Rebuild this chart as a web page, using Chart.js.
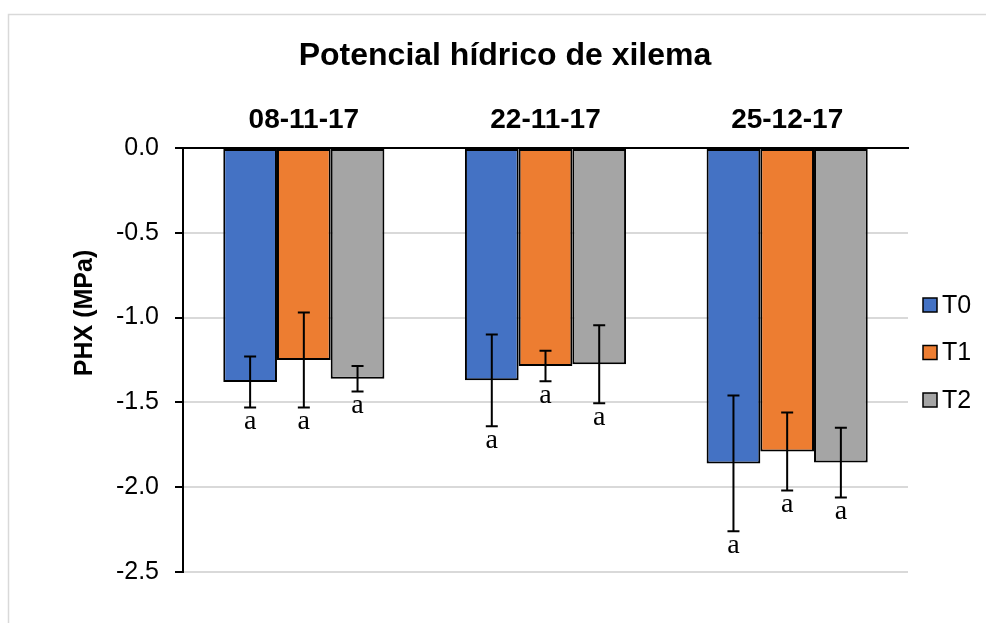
<!DOCTYPE html>
<html>
<head>
<meta charset="utf-8">
<script src="https://cdn.jsdelivr.net/npm/chart.js@4.4.1/dist/chart.umd.min.js"></script>
<style>
  html, body { margin: 0; padding: 0; background: #fff; }
  #wrap { width: 986px; height: 623px; position: relative; }
</style>
</head>
<body>
<div id="wrap"><canvas id="phxChart"></canvas></div>
<script>
// Fechas de muestreo
const fechas = ["08-11-17", "22-11-17", "25-12-17"];
const tratamientos = ["T0", "T1", "T2"];
const titulo = "Potencial hídrico de xilema";

// PHX medio (MPa) por tratamiento
const t0 = [-1.38, -1.37, -1.86];
const t1 = [-1.25, -1.285, -1.79];
const t2 = [-1.36, -1.275, -1.855];

// error (+/-)
const t0Err = [0.15, 0.27, 0.40];
const t1Err = [0.28, 0.09, 0.23];
const t2Err = [0.075, 0.23, 0.205];

// letras de significancia
const t0Letras = ["a", "a", "a"];
const t1Letras = ["a", "a", "a"];
const t2Letras = ["a", "a", "a"];

const yTicks = [0, -0.5, -1.0, -1.5, -2.0, -2.5];

const colores = ["#4472C4", "#ED7D31", "#A5A5A5"];

// error bars + letters drawn on top of the bars
const errorBarsPlugin = {
  id: "errorBars",
  afterDatasetsDraw(chart) {
    const ctx = chart.ctx;
    const yScale = chart.scales.y;
    chart.data.datasets.forEach((ds, i) => {
      const meta = chart.getDatasetMeta(i);
      meta.data.forEach((bar, j) => {
        const v = ds.data[j];
        const e = ds.errores[j];
        const yTop = yScale.getPixelForValue(v + e);
        const yBot = yScale.getPixelForValue(v - e);
        const x = bar.x;
        ctx.save();
        ctx.strokeStyle = "#000";
        ctx.lineWidth = 2;
        ctx.beginPath();
        ctx.moveTo(x, yTop);
        ctx.lineTo(x, yBot);
        ctx.moveTo(x - 6, yTop);
        ctx.lineTo(x + 6, yTop);
        ctx.moveTo(x - 6, yBot);
        ctx.lineTo(x + 6, yBot);
        ctx.stroke();
        ctx.fillStyle = "#000";
        ctx.font = '28px "Liberation Serif", "DejaVu Serif", serif';
        ctx.textAlign = "center";
        ctx.textBaseline = "middle";
        ctx.fillText(ds.letras[j], x, yBot + 14);
        ctx.restore();
      });
    });
  }
};

// frame, title, y axis title and legend
const decorPlugin = {
  id: "decor",
  beforeDraw(chart) {
    const ctx = chart.ctx;
    ctx.save();
    ctx.fillStyle = "#fff";
    ctx.fillRect(0, 0, chart.width, chart.height);
    ctx.strokeStyle = "#d9d9d9";
    ctx.lineWidth = 1.5;
    ctx.beginPath();
    ctx.moveTo(8.5, chart.height);
    ctx.lineTo(8.5, 14.5);
    ctx.lineTo(chart.width, 14.5);
    ctx.stroke();
    ctx.restore();
  },
  afterDraw(chart) {
    const ctx = chart.ctx;
    ctx.save();
    ctx.fillStyle = "#000";
    ctx.font = 'bold 32px "Liberation Sans", Arial, sans-serif';
    ctx.textAlign = "center";
    ctx.textBaseline = "middle";
    ctx.fillText(titulo, 505, 56);
    ctx.restore();

    // y axis title
    ctx.save();
    ctx.translate(85, 313);
    ctx.rotate(-Math.PI / 2);
    ctx.fillStyle = "#000";
    ctx.font = 'bold 25px "Liberation Sans", Arial, sans-serif';
    ctx.textAlign = "center";
    ctx.textBaseline = "middle";
    ctx.fillText("PHX (MPa)", 0, 0);
    ctx.restore();

    // legend
    ctx.save();
    const n = chart.data.datasets.length;
    const step = 47.5;
    const y0 = 352.5 - step * (n - 1) / 2;
    chart.data.datasets.forEach((ds, i) => {
      const y = y0 + i * step;
      ctx.fillStyle = ds.backgroundColor;
      ctx.fillRect(923, y - 7, 14, 14);
      ctx.strokeStyle = "#000";
      ctx.lineWidth = 1.5;
      ctx.strokeRect(923, y - 7, 14, 14);
      ctx.fillStyle = "#000";
      ctx.font = '25px "Liberation Sans", Arial, sans-serif';
      ctx.textAlign = "left";
      ctx.textBaseline = "middle";
      ctx.fillText(ds.label, 942, y + 1);
    });
    ctx.restore();
  }
};

const ctx = document.getElementById("phxChart").getContext("2d");
new Chart(ctx, {
  type: "bar",
  data: {
    labels: fechas,
    datasets: [
      { label: tratamientos[0], data: t0, errores: t0Err, letras: t0Letras, backgroundColor: colores[0] },
      { label: tratamientos[1], data: t1, errores: t1Err, letras: t1Letras, backgroundColor: colores[1] },
      { label: tratamientos[2], data: t2, errores: t2Err, letras: t2Letras, backgroundColor: colores[2] }
    ].map((d) => Object.assign(d, {
      borderColor: "#000",
      borderWidth: 2,
      borderSkipped: false,
      categoryPercentage: 0.6667,
      barPercentage: 1.0
    }))
  },
  options: {
    responsive: true,
    maintainAspectRatio: false,
    animation: false,
    layout: { padding: { left: 0, right: 78, bottom: 51, top: 103 } },
    plugins: {
      legend: { display: false },
      tooltip: { enabled: false },
      title: { display: false }
    },
    scales: {
      x: {
        position: "top",
        grid: { display: false, drawTicks: false },
        border: { display: true, color: "#000", width: 2 },
        afterFit: (scale) => { scale.height = 45; },
        ticks: {
          color: "#000",
          padding: 11,
          font: { family: '"Liberation Sans", Arial, sans-serif', size: 28, weight: "bold" }
        }
      },
      y: {
        min: -2.5,
        max: 0,
        afterBuildTicks: (scale) => {
          scale.ticks = yTicks.map((v) => ({ value: v }));
        },
        afterFit: (scale) => { scale.width = 183; },
        grid: {
          color: (c) => (c.tick && c.tick.value === 0 ? "rgba(0,0,0,0)" : "#d9d9d9"),
          lineWidth: 2,
          tickColor: "#000",
          tickLength: 8
        },
        border: { display: true, color: "#000", width: 2 },
        ticks: {
          color: "#000",
          padding: 16,
          font: { family: '"Liberation Sans", Arial, sans-serif', size: 25 },
          callback: (v) => Number(v).toFixed(1)
        }
      }
    }
  },
  plugins: [decorPlugin, errorBarsPlugin]
});
</script>
</body>
</html>
